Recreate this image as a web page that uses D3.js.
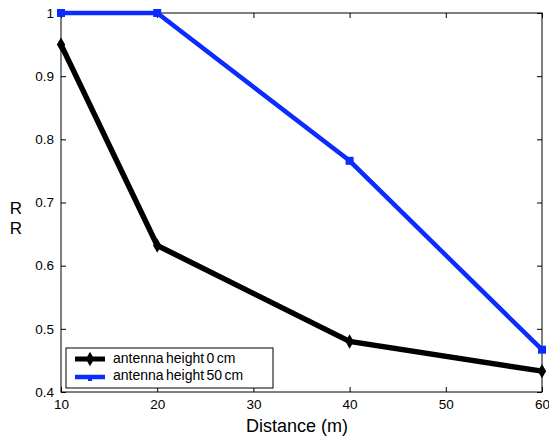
<!DOCTYPE html>
<html><head><meta charset="utf-8">
<script src="https://cdn.jsdelivr.net/npm/d3@7"></script>
<style>body{margin:0;background:#fff}svg{font-family:"Liberation Sans",Arial,sans-serif}</style>
</head><body><svg id="c" width="549" height="437"></svg>
<script>
const distances = [10, 20, 40, 60];
const seriesNames = ["antenna height 0 cm", "antenna height 50 cm"];
const rr0 = [0.95, 0.632, 0.48, 0.433];
const rr50 = [1.0, 1.0, 0.766, 0.467];
const xTicks = [10, 20, 30, 40, 50, 60];
const yTicks = [0.4, 0.5, 0.6, 0.7, 0.8, 0.9, 1];

const svg = d3.select("#c");
const L = 61, R = 542, T = 13, B = 392;
const x = d3.scaleLinear().domain([10, 60]).range([L, R]);
const y = d3.scaleLinear().domain([0.4, 1]).range([B, T]);

svg.append("rect").attr("x", L).attr("y", T).attr("width", R - L).attr("height", B - T)
  .attr("fill", "none").attr("stroke", "#000").attr("stroke-width", 1);

const ax = svg.append("g").attr("transform", `translate(0,${B})`)
  .call(d3.axisBottom(x).tickValues(xTicks).tickSize(-5).tickPadding(7).tickFormat(d3.format("d")));
const axT = svg.append("g").attr("transform", `translate(0,${T})`)
  .call(d3.axisTop(x).tickValues(xTicks).tickSize(-5).tickFormat(""));
const ay = svg.append("g").attr("transform", `translate(${L},0)`)
  .call(d3.axisLeft(y).tickValues(yTicks).tickSize(-5).tickPadding(7).tickFormat(d => d === 1 ? "1" : d3.format(".1f")(d)));
const ayR = svg.append("g").attr("transform", `translate(${R},0)`)
  .call(d3.axisRight(y).tickValues(yTicks).tickSize(-5).tickFormat(""));
[ax, axT, ay, ayR].forEach(g => {
  g.select(".domain").remove();
  g.selectAll("text").attr("font-size", 13.5).attr("fill", "#000").attr("font-family", '"Liberation Sans",Arial,sans-serif');
  g.selectAll("line").attr("stroke", "#000");
});

const line = d3.line().x(d => x(d[0])).y(d => y(d[1]));
const d0 = distances.map((d, i) => [d, rr0[i]]);
const d50 = distances.map((d, i) => [d, rr50[i]]);

svg.append("path").datum(d50).attr("d", line).attr("fill", "none").attr("stroke", "#0a2cff").attr("stroke-width", 4.5);
svg.append("path").datum(d0).attr("d", line).attr("fill", "none").attr("stroke", "#000").attr("stroke-width", 5.5);

const diamond = d3.symbol().type(d3.symbolDiamond).size(60);
svg.selectAll(".m0").data(d0).join("path").attr("d", diamond)
  .attr("transform", d => `translate(${x(d[0])},${y(d[1])})`).attr("fill", "#000");
svg.selectAll(".m50").data(d50).join("rect")
  .attr("x", d => x(d[0]) - 4).attr("y", d => y(d[1]) - 4).attr("width", 8).attr("height", 8).attr("fill", "#0a2cff");

// legend
const lg = svg.append("g");
lg.append("rect").attr("x", 66).attr("y", 348).attr("width", 207).attr("height", 40)
  .attr("fill", "#fff").attr("stroke", "#000").attr("stroke-width", 1);
lg.append("line").attr("x1", 75).attr("x2", 105).attr("y1", 359).attr("y2", 359).attr("stroke", "#000").attr("stroke-width", 5);
lg.append("path").attr("d", diamond).attr("transform", "translate(90,359)").attr("fill", "#000");
lg.append("line").attr("x1", 75).attr("x2", 105).attr("y1", 377).attr("y2", 377).attr("stroke", "#0a2cff").attr("stroke-width", 4.5);
lg.append("rect").attr("x", 88).attr("y", 376).attr("width", 4).attr("height", 5).attr("fill", "#0a2cff");
lg.selectAll("text").data(seriesNames).join("text")
  .attr("x", 113).attr("y", (d, i) => 363 + i * 17).attr("font-size", 14).attr("word-spacing", -1.5).text(d => d);

svg.append("text").attr("x", 297).attr("y", 432).attr("text-anchor", "middle").attr("font-size", 18).text("Distance (m)");
svg.append("text").attr("x", 16).attr("y", 214).attr("text-anchor", "middle").attr("font-size", 17).text("R");
svg.append("text").attr("x", 16).attr("y", 234).attr("text-anchor", "middle").attr("font-size", 17).text("R");
</script></body></html>
